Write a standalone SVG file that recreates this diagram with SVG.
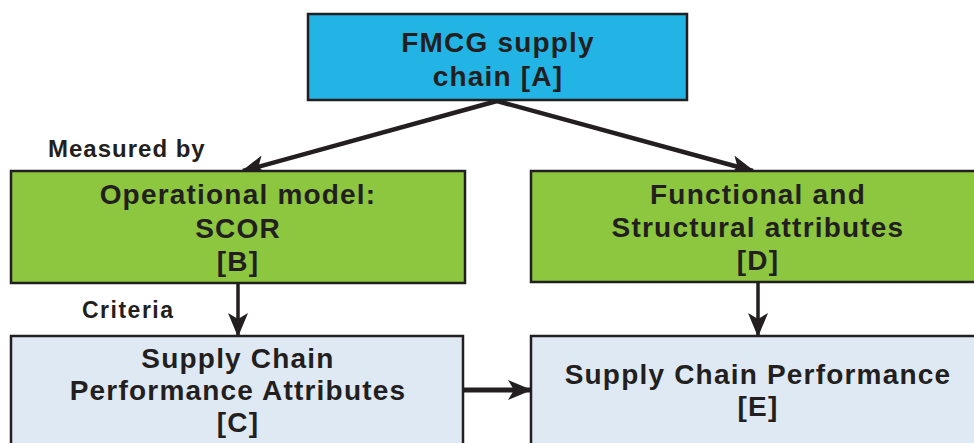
<svg xmlns="http://www.w3.org/2000/svg" width="974" height="443" viewBox="0 0 974 443">
  <style>
    .box { stroke: #231f20; stroke-width: 2.5; }
    .blue { fill: #21b4e5; }
    .green { fill: #8dc63f; }
    .pale { fill: #dfe9f3; }
    text { font-family: "Liberation Sans", Arial, sans-serif; font-weight: bold; fill: #231f20; text-anchor: middle; }
    .t { font-size: 28px; letter-spacing: 1.2px; }
    .lbl { font-size: 24px; letter-spacing: 1px; text-anchor: start; }
    .edge { stroke: #231f20; fill: none; }
  </style>
  <defs>
    <marker id="head" viewBox="0 0 12 10" refX="11" refY="5" markerWidth="24" markerHeight="20" markerUnits="userSpaceOnUse" orient="auto">
      <path d="M0,0 L12,5 L0,10 L3,5 z" fill="#231f20"/>
    </marker>
  </defs>

  <g id="connectors">
    <line class="edge" x1="497" y1="101" x2="243" y2="171" stroke-width="4.5" marker-end="url(#head)"/>
    <line class="edge" x1="497" y1="101" x2="753" y2="171" stroke-width="4.5" marker-end="url(#head)"/>
    <line class="edge" x1="238" y1="284" x2="238" y2="335" stroke-width="3.5" marker-end="url(#head)"/>
    <line class="edge" x1="758" y1="283" x2="758" y2="335" stroke-width="3.5" marker-end="url(#head)"/>
    <line class="edge" x1="464" y1="390" x2="530" y2="390" stroke-width="5" marker-end="url(#head)"/>
  </g>

  <g id="node-A">
    <rect class="box blue" x="308" y="14" width="379" height="86"/>
    <text class="t" x="498" y="52">FMCG supply</text>
    <text class="t" x="498" y="86">chain [A]</text>
  </g>

  <g id="node-B">
    <rect class="box green" x="11" y="171" width="454" height="112"/>
    <text class="t" x="238" y="204">Operational model:</text>
    <text class="t" x="238" y="238">SCOR</text>
    <text class="t" x="238" y="271">[B]</text>
  </g>

  <g id="node-D">
    <rect class="box green" x="531" y="171" width="460" height="111"/>
    <text class="t" x="758" y="204">Functional and</text>
    <text class="t" x="758" y="237">Structural attributes</text>
    <text class="t" x="758" y="270">[D]</text>
  </g>

  <g id="node-C">
    <rect class="box pale" x="11" y="336" width="452" height="120"/>
    <text class="t" x="238" y="368">Supply Chain</text>
    <text class="t" x="238" y="400">Performance Attributes</text>
    <text class="t" x="238" y="432">[C]</text>
  </g>

  <g id="node-E">
    <rect class="box pale" x="531" y="336" width="460" height="120"/>
    <text class="t" x="758" y="384">Supply Chain Performance</text>
    <text class="t" x="758" y="416">[E]</text>
  </g>

  <g id="labels">
    <text class="lbl" x="48" y="157">Measured by</text>
    <text class="lbl" x="82" y="318" style="font-size:23px;letter-spacing:1.5px">Criteria</text>
  </g>
</svg>
